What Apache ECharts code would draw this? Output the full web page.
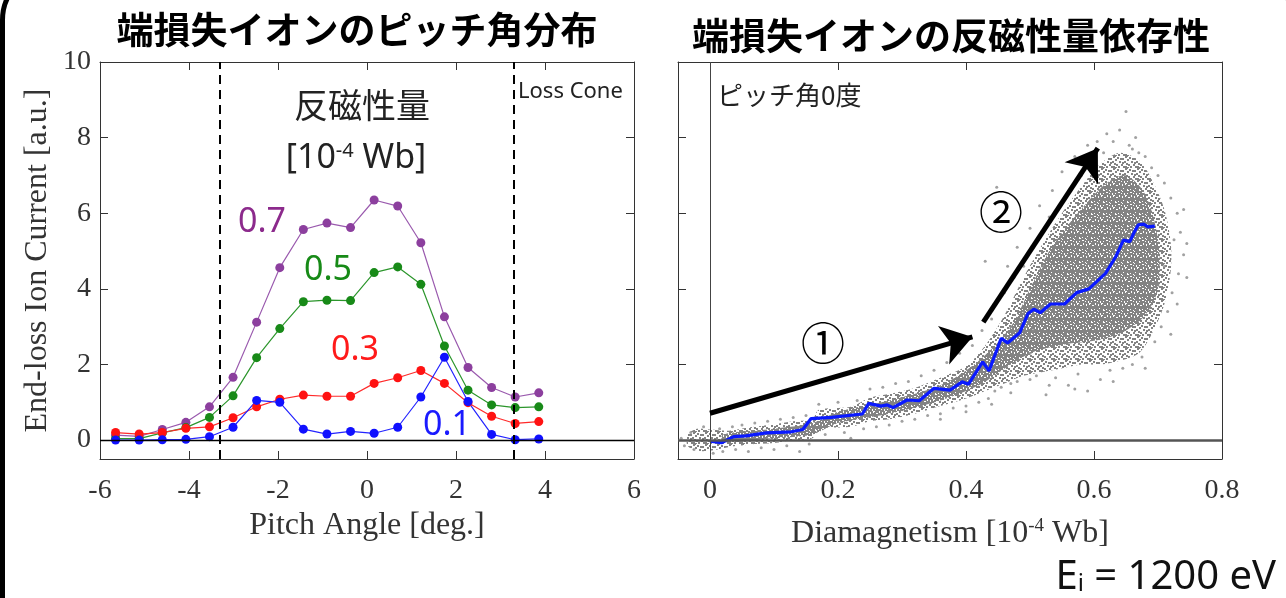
<!DOCTYPE html>
<html>
<head>
<meta charset="utf-8">
<script src="https://cdn.jsdelivr.net/npm/echarts@6/dist/echarts.min.js"></script>
<style>
  html, body { margin: 0; padding: 0; background: #fff; }
  #main { width: 1286px; height: 598px; }
</style>
</head>
<body>
<div id="main"></div>
<script>
// 左: ピッチ角分布 (x: pitch angle [deg.])
var pitchAngles = [-5.65, -5.12, -4.6, -4.07, -3.54, -3.01, -2.48, -1.96, -1.43, -0.9, -0.37, 0.16, 0.69, 1.21, 1.74, 2.27, 2.8, 3.33, 3.86];
// 反磁性量ごとの電流 [a.u.]
var current07 = [0.13, 0.1, 0.28, 0.47, 0.88, 1.66, 3.12, 4.56, 5.57, 5.74, 5.62, 6.35, 6.19, 5.22, 3.26, 1.92, 1.39, 1.14, 1.25];
var current05 = [0.04, 0.04, 0.19, 0.33, 0.6, 1.17, 2.18, 2.95, 3.66, 3.7, 3.69, 4.43, 4.58, 4.12, 2.49, 1.32, 0.93, 0.86, 0.88];
var current03 = [0.2, 0.16, 0.2, 0.31, 0.35, 0.59, 0.88, 1.08, 1.19, 1.16, 1.16, 1.5, 1.65, 1.84, 1.5, 0.99, 0.63, 0.44, 0.49];
var current01 = [0.0, 0.0, 0.01, 0.02, 0.09, 0.34, 1.05, 1.0, 0.29, 0.16, 0.23, 0.18, 0.34, 1.14, 2.19, 1.02, 0.15, 0.01, 0.03];
var lossCone = 3.3;

// 右: 反磁性量依存性 (平均値の線)
var meanDia = [0, 0.018, 0.037, 0.056, 0.088, 0.127, 0.145, 0.158, 0.19, 0.238, 0.248, 0.267, 0.277, 0.286, 0.308, 0.327, 0.35, 0.375, 0.394, 0.404, 0.426, 0.436, 0.455, 0.465, 0.484, 0.497, 0.506, 0.516, 0.532, 0.554, 0.573, 0.592, 0.618, 0.634, 0.646, 0.656, 0.662, 0.669, 0.678, 0.684, 0.695];
var meanCurrent = [-0.03, -0.07, 0.09, 0.11, 0.19, 0.22, 0.28, 0.57, 0.6, 0.69, 0.97, 0.9, 0.93, 0.86, 1.06, 1.04, 1.37, 1.32, 1.54, 1.48, 2.07, 1.83, 2.69, 2.57, 2.84, 3.35, 3.46, 3.37, 3.6, 3.6, 3.9, 4.0, 4.41, 4.85, 5.29, 5.25, 5.47, 5.69, 5.71, 5.64, 5.66];

// 点群の外形 (x, 下端, 上端)
var cloudX = [-0.035, -0.02, 0.0, 0.03, 0.06, 0.1, 0.13, 0.16, 0.17, 0.22, 0.25, 0.28, 0.32, 0.36, 0.4, 0.43, 0.46, 0.49, 0.52, 0.55, 0.58, 0.61, 0.64, 0.67, 0.69, 0.71, 0.72];
var cloudLo = [-0.15, -0.28, -0.28, -0.18, -0.12, -0.08, 0.0, 0.05, 0.3, 0.35, 0.5, 0.55, 0.7, 0.9, 1.1, 1.3, 1.5, 1.7, 1.8, 1.9, 2.0, 2.0, 2.1, 2.3, 2.8, 3.6, 4.5];
var cloudHi = [0.15, 0.3, 0.28, 0.25, 0.33, 0.42, 0.5, 0.55, 0.8, 0.88, 1.12, 1.22, 1.38, 1.65, 1.95, 2.5, 3.3, 4.3, 5.2, 6.0, 6.7, 7.3, 7.6, 7.4, 6.9, 6.1, 5.2];
// 点群の最も密な部分
var coreX = [0.02, 0.1, 0.16, 0.2, 0.28, 0.36, 0.42, 0.47, 0.5, 0.53, 0.56, 0.59, 0.62, 0.65, 0.68, 0.7];
var coreLo = [-0.05, 0.05, 0.15, 0.45, 0.7, 1.05, 1.45, 2.0, 2.3, 2.45, 2.55, 2.6, 2.7, 2.9, 3.3, 4.0];
var coreHi = [0.15, 0.3, 0.45, 0.75, 1.05, 1.45, 2.1, 3.0, 4.0, 5.0, 5.7, 6.3, 6.8, 7.0, 6.5, 5.3];

// 外側のまばらな点
var sparsePoints = [
  [-0.045, 0.05], [-0.04, -0.15], [-0.03, 0.2], [-0.025, -0.25], [-0.01, 0.35], [0.005, -0.35], [0.015, 0.3], [0.02, -0.3],
  [0.035, 0.35], [0.04, -0.25], [0.05, 0.4], [0.06, -0.3], [0.07, 0.45], [0.08, -0.2], [0.09, 0.5], [0.1, -0.25],
  [0.11, 0.55], [0.12, -0.15], [0.13, 0.6], [0.14, -0.3], [0.15, 0.65], [0.155, -0.1], [0.17, 0.95], [0.18, 0.15],
  [0.2, 1.0], [0.21, 0.2], [0.22, 0.05], [0.23, 1.05], [0.24, 0.3], [0.25, 1.35], [0.26, 0.35], [0.27, 1.4],
  [0.28, 0.4], [0.29, 1.5], [0.3, 0.5], [0.31, 1.55], [0.32, 0.55], [0.33, 1.7], [0.34, 0.65], [0.35, 1.85],
  [0.36, 0.7], [0.37, 2.05], [0.38, 0.85], [0.39, 2.3], [0.4, 0.9], [0.41, 2.5], [0.42, 1.0], [0.425, 2.9],
  [0.43, 4.73], [0.435, 1.1], [0.44, 3.2], [0.445, 1.3], [0.448, 6.69], [0.45, 3.7], [0.455, 1.4], [0.46, 3.9],
  [0.47, 1.5], [0.475, 4.3], [0.48, 1.55], [0.49, 4.6], [0.5, 1.6], [0.505, 5.1], [0.51, 1.7], [0.52, 5.5],
  [0.525, 1.2], [0.53, 5.9], [0.54, 1.65], [0.55, 6.3], [0.56, 1.45], [0.565, 6.7], [0.575, 1.75], [0.58, 7.0],
  [0.59, 1.3], [0.6, 7.4], [0.61, 1.6], [0.615, 7.6], [0.625, 1.85], [0.63, 7.9], [0.64, 8.2], [0.645, 1.9],
  [0.65, 8.69], [0.655, 7.8], [0.66, 2.0], [0.665, 8.0], [0.67, 7.6], [0.675, 2.2], [0.68, 7.5], [0.69, 7.2],
  [0.695, 2.6], [0.7, 7.0], [0.705, 3.0], [0.71, 6.8], [0.715, 3.4], [0.72, 6.4], [0.722, 3.9], [0.73, 6.0],
  [0.732, 4.4], [0.735, 5.5], [0.74, 4.9], [0.725, 5.3], [0.71, 4.6], [0.7, 4.1],
  [0.465, 4.6], [0.48, 5.1], [0.5, 5.6], [0.515, 6.2], [0.535, 6.6], [0.55, 7.1], [0.57, 7.5], [0.59, 7.8],
  [0.62, 8.1], [0.605, 7.9], [0.66, 7.7], [0.72, 2.8], [0.73, 3.6], [0.745, 4.3], [0.745, 5.2], [0.74, 6.1],
  [0.68, 1.9], [0.63, 1.55], [0.57, 1.35], [0.53, 1.45], [0.47, 1.25], [0.44, 0.95], [0.4, 0.75], [0.36, 0.55],
  [0.47, 3.0], [0.46, 2.4], [0.445, 2.1], [0.49, 3.4], [0.5, 2.3], [0.51, 4.0], [0.505, 2.9], [0.52, 4.6]
];

// 矢印 ① ② (データ座標)
var arrow1 = [[0, 0.71], [0.41, 2.73]];
var arrow2 = [[0.427, 3.12], [0.606, 7.72]];

var yTicks = [0, 2, 4, 6, 8, 10];
var diaTicks = [0, 0.2, 0.4, 0.6, 0.8];

var serif = "'Liberation Serif', 'DejaVu Serif', serif";
var sans = "'Noto Sans', 'Noto Sans CJK JP', sans-serif";
var cjk = "'Noto Sans CJK JP', sans-serif";
var axisColor = '#333';

function pairs(xs, ys) {
  return xs.map(function (x, i) { return [x, ys[i]]; });
}

function boxAxis(grid, pos, opt) {
  var a = {
    gridIndex: grid,
    position: pos,
    type: 'value',
    splitLine: { show: false },
    axisLine: { show: true, onZero: false, lineStyle: { color: axisColor, width: 1 } },
    axisTick: { show: true, inside: true, length: 8, lineStyle: { color: axisColor } },
    axisLabel: { show: false }
  };
  return Object.assign(a, opt);
}

function ticks(values) {
  return { show: true, inside: true, length: 8, customValues: values, lineStyle: { color: axisColor } };
}

var tickLabel = { show: true, fontFamily: serif, fontSize: 28, color: '#333', margin: 18 };
var nameStyle = { fontFamily: serif, fontSize: 32, color: '#333' };

// 点群用の粒状テクスチャ (12px タイルに 2px の点)
function dotTile(dots) {
  var c = document.createElement('canvas');
  c.width = 12;
  c.height = 12;
  var ctx = c.getContext('2d');
  ctx.fillStyle = '#838383';
  dots.forEach(function (p) {
    ctx.fillRect(p[0], p[1], 2, 2);
    // タイル端の折り返し
    if (p[0] === 11) ctx.fillRect(0, p[1], 1, 2);
    if (p[1] === 11) ctx.fillRect(p[0], 0, 2, 1);
  });
  return c;
}
var sparseTile = dotTile([[1, 1], [6, 2], [9, 0], [3, 5], [8, 5], [0, 8], [5, 8], [10, 7], [2, 10], [7, 10], [11, 11], [4, 2],
  [11, 3], [6, 6], [9, 10]]);
var denseTile = dotTile([[0, 0], [3, 1], [6, 0], [9, 1], [1, 3], [4, 4], [7, 3], [10, 4], [0, 6], [2, 7], [5, 6], [8, 6], [11, 7],
  [3, 9], [6, 9], [9, 9], [1, 10], [4, 11], [7, 11], [10, 11], [5, 2], [8, 8], [2, 5], [0, 8], [11, 2], [7, 5], [4, 7], [10, 6]]);

function cloudSeries(xs, lo, hi, tile, z) {
  return {
    type: 'custom', xAxisIndex: 2, yAxisIndex: 2, data: [0], silent: true, z: z,
    renderItem: function (params, api) {
      var pts = [];
      for (var i = 0; i < xs.length; i++) pts.push(api.coord([xs[i], hi[i]]));
      for (var j = xs.length - 1; j >= 0; j--) pts.push(api.coord([xs[j], lo[j]]));
      return {
        type: 'polygon',
        shape: { points: pts, smooth: 0.3 },
        style: { fill: { image: tile, repeat: 'repeat' } }
      };
    }
  };
}

function pitchSeries(data, color, lineColor) {
  return {
    type: 'line',
    xAxisIndex: 0,
    yAxisIndex: 0,
    data: pairs(pitchAngles, data),
    symbol: 'circle',
    symbolSize: 9,
    itemStyle: { color: color },
    lineStyle: { color: lineColor, width: 1.2 },
    z: 3
  };
}

var chart = echarts.init(document.getElementById('main'));

var option = {
  animation: false,
  backgroundColor: '#fff',
  grid: [
    { left: 100, top: 62, width: 534, height: 397 },
    { left: 678, top: 62, width: 544, height: 397 }
  ],
  xAxis: [
    boxAxis(0, 'bottom', {
      min: -6, max: 6, interval: 2,
      axisLabel: tickLabel,
      name: 'Pitch Angle [deg.]', nameLocation: 'middle', nameGap: 46, nameTextStyle: nameStyle
    }),
    boxAxis(0, 'top', { min: -6, max: 6, interval: 2 }),
    boxAxis(1, 'bottom', {
      min: -0.05, max: 0.8,
      axisLabel: Object.assign({ customValues: diaTicks }, tickLabel),
      axisTick: ticks(diaTicks),
      name: 'Diamagnetism [10{sup|-4} Wb]', nameLocation: 'middle', nameGap: 58,
      nameTextStyle: Object.assign({ rich: { sup: { fontFamily: serif, fontSize: 19, color: '#333', padding: [0, 0, 15, 0] } } }, nameStyle)
    }),
    boxAxis(1, 'top', { min: -0.05, max: 0.8, axisTick: ticks(diaTicks) })
  ],
  yAxis: [
    boxAxis(0, 'left', {
      min: -0.5, max: 10,
      axisLabel: Object.assign({}, tickLabel, { customValues: yTicks, margin: 9 }),
      axisTick: ticks(yTicks),
      name: 'End-loss Ion Current [a.u.]', nameLocation: 'middle', nameGap: 46, nameTextStyle: nameStyle
    }),
    boxAxis(0, 'right', { min: -0.5, max: 10, axisTick: ticks(yTicks) }),
    boxAxis(1, 'left', { min: -0.5, max: 10, axisTick: ticks(yTicks) }),
    boxAxis(1, 'right', { min: -0.5, max: 10, axisTick: ticks(yTicks) })
  ],
  series: [
    // 基準線とロスコーン境界
    {
      type: 'line', xAxisIndex: 0, yAxisIndex: 0, data: [], silent: true,
      markLine: {
        silent: true, symbol: 'none', label: { show: false },
        data: [
          { yAxis: 0, lineStyle: { color: '#000', width: 1.3, type: 'solid' } },
          { xAxis: -lossCone, lineStyle: { color: '#000', width: 2, type: [9, 6] } },
          { xAxis: lossCone, lineStyle: { color: '#000', width: 2, type: [9, 6] } }
        ]
      }
    },
    pitchSeries(current07, '#8C3F9E', '#9A5AAE'),
    pitchSeries(current05, '#188A18', '#2C962C'),
    pitchSeries(current03, '#FF1212', '#FF2A2A'),
    pitchSeries(current01, '#1010FF', '#2424FF'),
    // 点群
    cloudSeries(cloudX, cloudLo, cloudHi, sparseTile, 1),
    cloudSeries(coreX, coreLo, coreHi, denseTile, 1),
    {
      type: 'scatter', xAxisIndex: 2, yAxisIndex: 2, data: sparsePoints,
      symbolSize: 3, itemStyle: { color: '#8a8a8a' }, silent: true, z: 2,
      markLine: {
        silent: true, symbol: 'none', label: { show: false },
        data: [
          { xAxis: 0, lineStyle: { color: '#444', width: 1, type: 'solid' } },
          { yAxis: 0, lineStyle: { color: '#555', width: 2.5, type: 'solid' } }
        ]
      }
    },
    {
      type: 'line', xAxisIndex: 2, yAxisIndex: 2, data: pairs(meanDia, meanCurrent),
      showSymbol: false, lineStyle: { color: '#0A1AFF', width: 3.2 }, silent: true, z: 4,
      markLine: {
        silent: true, symbol: ['none', 'arrow'], symbolSize: 30, label: { show: false },
        lineStyle: { color: '#000', width: 5, type: 'solid' },
        data: [
          [{ coord: arrow1[0] }, { coord: arrow1[1] }],
          [{ coord: arrow2[0] }, { coord: arrow2[1] }]
        ]
      }
    }
  ],
  graphic: [
    {
      type: 'rect', silent: true, z: 0,
      shape: { x: 2.5, y: -30, width: 1290, height: 700, r: 50 },
      style: { fill: 'none', stroke: '#000', lineWidth: 5 }
    },
    { type: 'text', x: 357, y: 30, z: 10, style: { text: '端損失イオンのピッチ角分布', font: 'bold 37px ' + cjk, fill: '#000', textAlign: 'center', textVerticalAlign: 'middle' } },
    { type: 'text', x: 951, y: 36, z: 10, style: { text: '端損失イオンの反磁性量依存性', font: 'bold 37px ' + cjk, fill: '#000', textAlign: 'center', textVerticalAlign: 'middle' } },
    { type: 'text', x: 362, y: 105, z: 10, style: { text: '反磁性量', font: '34px ' + cjk, fill: '#222', textAlign: 'center', textVerticalAlign: 'middle' } },
    {
      type: 'text', x: 356, y: 158, z: 10,
      style: {
        text: '[10{sup|-4} Wb]', font: '34px ' + sans, fill: '#222', textAlign: 'center', textVerticalAlign: 'middle',
        rich: { sup: { font: '20px ' + sans, fill: '#222', padding: [0, 0, 14, 0] } }
      }
    },
    { type: 'text', x: 518, y: 92, z: 10, style: { text: 'Loss Cone', font: '22px ' + sans, fill: '#222', textAlign: 'left', textVerticalAlign: 'middle' } },
    { type: 'text', x: 262, y: 222, z: 10, style: { text: '0.7', font: '34px ' + sans, fill: '#8C2A8C', textAlign: 'center', textVerticalAlign: 'middle' } },
    { type: 'text', x: 328, y: 270, z: 10, style: { text: '0.5', font: '34px ' + sans, fill: '#178A17', textAlign: 'center', textVerticalAlign: 'middle' } },
    { type: 'text', x: 355, y: 350, z: 10, style: { text: '0.3', font: '34px ' + sans, fill: '#FF1A1A', textAlign: 'center', textVerticalAlign: 'middle' } },
    { type: 'text', x: 447, y: 425, z: 10, style: { text: '0.1', font: '34px ' + sans, fill: '#1A1AFF', textAlign: 'center', textVerticalAlign: 'middle' } },
    { type: 'text', x: 717, y: 95, z: 10, style: { text: 'ピッチ角0度', font: '26px ' + cjk, fill: '#222', textAlign: 'left', textVerticalAlign: 'middle' } },
    { type: 'text', x: 823, y: 343, z: 10, style: { text: '①', font: '44px ' + cjk, fill: '#000', textAlign: 'center', textVerticalAlign: 'middle' } },
    { type: 'text', x: 1001, y: 212, z: 10, style: { text: '②', font: '44px ' + cjk, fill: '#000', textAlign: 'center', textVerticalAlign: 'middle' } },
    {
      type: 'text', x: 1276, y: 578, z: 10,
      style: {
        text: 'E{sub|i} = 1200 eV', font: '40px ' + sans, fill: '#111', textAlign: 'right', textVerticalAlign: 'middle',
        rich: { sub: { font: '24px ' + sans, fill: '#111', padding: [12, 0, 0, 0] } }
      }
    }
  ]
};

chart.setOption(option);
</script>
</body>
</html>
